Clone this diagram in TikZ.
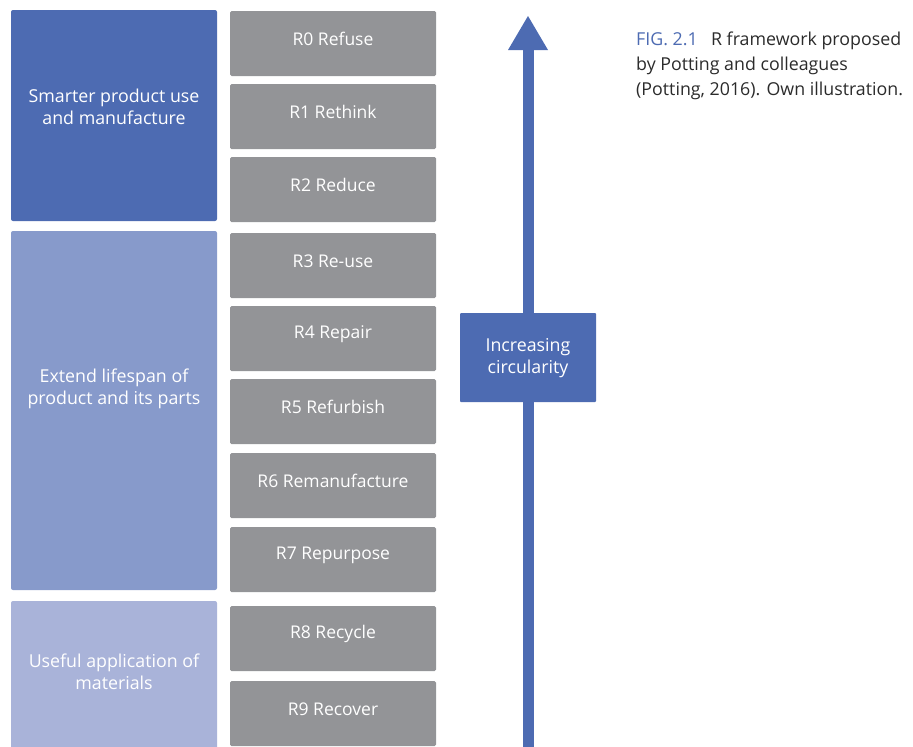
\documentclass[tikz,border=0pt]{standalone}
\usepackage{fontspec}
\setmainfont{Open Sans}
\definecolor{dblue}{HTML}{4D6BB2}
\definecolor{mblue}{HTML}{879ACB}
\definecolor{lblue}{HTML}{A9B3D9}
\definecolor{rgrey}{HTML}{939497}
\definecolor{captxt}{HTML}{2B2B2B}
\begin{document}
\begin{tikzpicture}[x=1pt,y=-1pt,
  rbox/.style={fill=rgrey,rounded corners=1.5pt},
  gbox/.style={rounded corners=2pt},
  rtext/.style={text=white,font=\fontsize{17.5}{22}\selectfont,anchor=center},
  gtext/.style={text=white,font=\fontsize{17.8}{22}\selectfont,align=center,anchor=center}]
\useasboundingbox (0,0) rectangle (913,747);
% left group boxes
\fill[dblue,gbox] (11,10) rectangle (217,221);
\node[gtext] (g1) at (114,107) {Smarter product use\\and manufacture};
\fill[mblue,gbox] (11,231) rectangle (217,590);
\node[gtext] (g2) at (114,389) {Extend lifespan of\\product and its parts};
\fill[lblue,gbox] (11,601) rectangle (217,752);
\node[gtext] (g3) at (114,672) {Useful application of\\materials};
% R boxes
\foreach \t/\b/\lab [count=\i from 0] in {11/76/R0 Refuse,84/149/R1 Rethink,157/222/R2 Reduce,233/298/R3 Re-use,306/371/R4 Repair,379/444/R5 Refurbish,453/518/R6 Remanufacture,527/592/R7 Repurpose,606/671/R8 Recycle,681/746/R9 Recover}{
  \fill[rbox] (230,\t) rectangle (436,\b);
  \node[rtext] (r\i) at (333,\t+28) {\lab};
}
% arrow
\coordinate (abot) at (528,760);
\coordinate (atop) at (528,50);
\fill[dblue] (522.5,760) rectangle (533.5,49);
\fill[dblue] (508,50) -- (528,16) -- (548,50) -- cycle;
\node[fill=dblue,minimum width=136pt,minimum height=89pt,inner sep=0pt,rounded corners=1pt] (ic) at (528,357.5) {};
\node[gtext] at ([yshift=-1pt]ic.center) {Increasing\\circularity};
% caption
\node[anchor=north west,align=left,inner sep=0pt,font=\fontsize{17.8}{25}\selectfont,text=captxt] (cap) at (636,32)
 {\textcolor{dblue}{FIG. 2.1}\hspace{0.75em}R framework proposed\\by Potting and colleagues\\(Potting, 2016). Own illustration.};
\end{tikzpicture}
\end{document}
